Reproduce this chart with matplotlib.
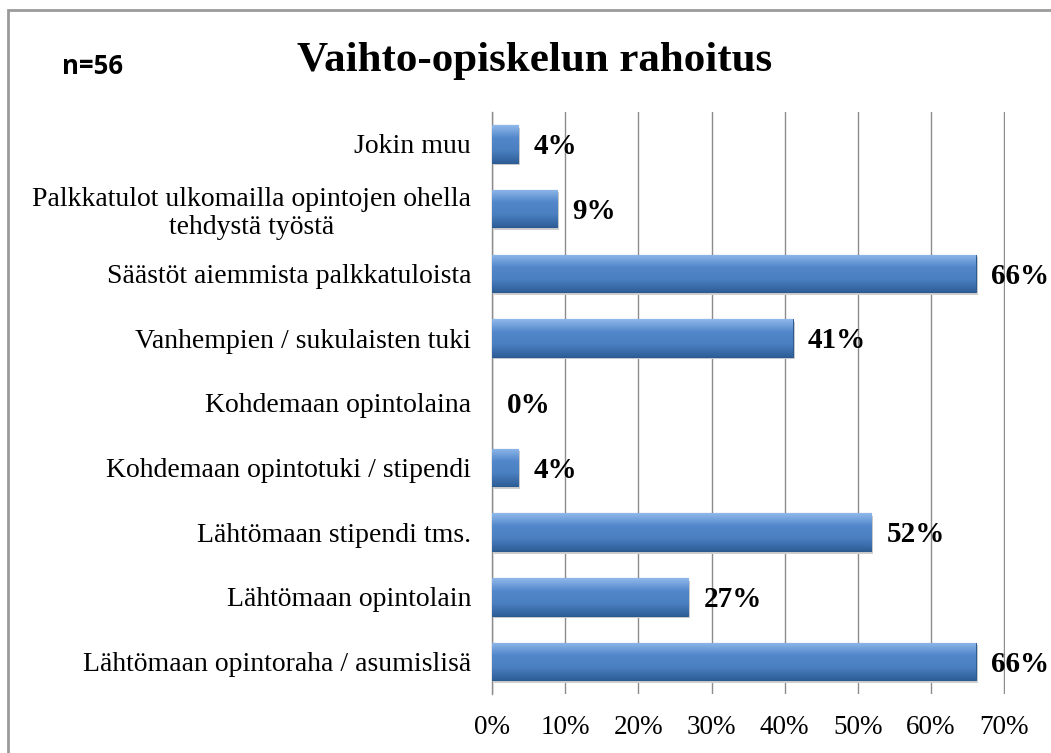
import numpy as np
import matplotlib
matplotlib.use('Agg')
from matplotlib import pyplot as plt
from matplotlib.patches import Rectangle
from matplotlib.colors import LinearSegmentedColormap

# data (bottom -> top)
categories = ['Lähtömaan opintoraha / asumislisä',
              'Lähtömaan opintolain',
              'Lähtömaan stipendi tms.',
              'Kohdemaan opintotuki / stipendi',
              'Kohdemaan opintolaina',
              'Vanhempien / sukulaisten tuki',
              'Säästöt aiemmista palkkatuloista',
              'Palkkatulot ulkomailla opintojen ohella\ntehdystä työstä',
              'Jokin muu']
values = [66.1, 26.8, 51.8, 3.6, 0.0, 41.1, 66.1, 8.9, 3.6]
labels = ['66%', '27%', '52%', '4%', '0%', '41%', '66%', '9%', '4%']
xticks = [0, 10, 20, 30, 40, 50, 60, 70]

serif = ['Liberation Serif', 'DejaVu Serif']

fig = plt.figure(figsize=(10.51, 7.53), dpi=100)
ax = fig.add_axes([0.4681, 0.0784, 0.4881, 0.7734])

y = np.arange(len(categories))
bh = 0.58
vals = np.array(values)
nz = vals > 0

# shadow + bars
ax.barh(y[nz] - 0.04, vals[nz], height=bh, left=0.25, color='#cfcfcf', zorder=2)
bars = ax.barh(y[nz], vals[nz], height=bh, color='#4f81bd', edgecolor='#2d5a8e',
               linewidth=0.8, zorder=3)

# gradient inside each bar
cmap = LinearSegmentedColormap.from_list('bev', ['#2f5f99', '#4a7fc0', '#5288cb', '#8fb8ea'])
grad = np.linspace(0, 1, 64).reshape(-1, 1)
for b in bars:
    x0, y0 = b.get_x(), b.get_y()
    w, h = b.get_width(), b.get_height()
    im = ax.imshow(grad, cmap=cmap, aspect='auto', origin='lower',
                   extent=[x0, x0 + w, y0, y0 + h], zorder=3.5)
    im.set_clip_path(b)

# value labels
for yi, v, t in zip(y, values, labels):
    ax.annotate(t, (v, yi), xytext=(11, -2), textcoords='offset points',
                ha='left', va='center', fontsize=21, fontweight='bold',
                family=serif, zorder=5)

ax.set_xlim(0, 70.1)
ax.set_ylim(-0.5, len(categories) - 0.5)
ax.set_xticks(xticks)
ax.set_xticklabels([f'{t}%' for t in xticks])
ax.set_yticks(y)
ax.set_yticklabels(categories)
ax.tick_params(axis='both', length=0)
ax.tick_params(axis='x', pad=15, labelsize=19.5)
ax.tick_params(axis='y', pad=15, labelsize=20)
for lab in ax.get_yticklabels():
    lab.set_multialignment('center')
    lab.set_family(serif)
for lab in ax.get_xticklabels():
    lab.set_family(serif)

ax.grid(axis='x', color='#8c8c8c', linewidth=1, zorder=0)
ax.set_axisbelow(True)
for s in ['top', 'right', 'bottom']:
    ax.spines[s].set_visible(False)
ax.spines['left'].set_color('#8c8c8c')
ax.spines['left'].set_linewidth(1)

# title and n
fig.text(0.509, 0.919, 'Vaihto-opiskelun rahoitus', ha='center', va='center',
         fontsize=31, fontweight='bold', family=serif)
fig.text(0.088, 0.912, 'n=56', ha='center', va='center', fontsize=18.5,
         fontweight='bold', family=['Open Sans', 'DejaVu Sans'])

# chart border
fig.patches.append(Rectangle((8 / 1051, -0.1), 1.2, 1 - 10 / 753 + 0.1,
                             transform=fig.transFigure, fill=False,
                             edgecolor='#9a9a9a', linewidth=2))

plt.savefig('out.png', dpi=100)
